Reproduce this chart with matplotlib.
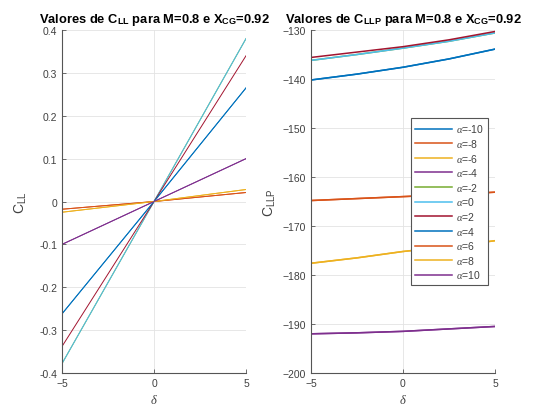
import numpy as np
import matplotlib.pyplot as plt

plt.rcParams['font.family'] = ['Liberation Sans', 'DejaVu Sans']
plt.rcParams['mathtext.fontset'] = 'custom'
plt.rcParams['mathtext.rm'] = 'Liberation Sans'
plt.rcParams['mathtext.bf'] = 'Liberation Sans:bold'
plt.rcParams['mathtext.it'] = 'Liberation Serif:italic'

# Data
alphas = [-10, -8, -6, -4, -2, 0, 2, 4, 6, 8, 10]
delta_ll = [-5, 0, 5]
delta_llp = [-5, -2.5, 0, 2.5, 5]

# C_LL vs delta (one list per alpha)
cll = {
    -10: [-0.262, 0, 0.265],
    -8: [-0.018, 0, 0.021],
    -6: [-0.025, 0, 0.028],
    -4: [-0.100, 0, 0.100],
    -2: [-0.378, 0, 0.380],
    0: [-0.378, 0, 0.380],
    2: [-0.338, 0, 0.340],
    4: [-0.262, 0, 0.265],
    6: [-0.018, 0, 0.021],
    8: [-0.025, 0, 0.028],
    10: [-0.100, 0, 0.100],
}

# C_LLP vs delta
cllp = {
    -10: [-140.2, -139.0, -137.6, -135.9, -133.9],
    -8: [-164.8, -164.4, -164.0, -163.6, -163.1],
    -6: [-177.6, -176.5, -175.2, -174.2, -173.0],
    -4: [-192.0, -191.8, -191.5, -191.0, -190.5],
    -2: [-136.2, -135.0, -133.7, -132.3, -130.6],
    0: [-136.2, -135.0, -133.7, -132.3, -130.6],
    2: [-135.6, -134.5, -133.4, -132.0, -130.3],
    4: [-140.2, -139.0, -137.6, -135.9, -133.9],
    6: [-164.8, -164.4, -164.0, -163.6, -163.1],
    8: [-177.6, -176.5, -175.2, -174.2, -173.0],
    10: [-192.0, -191.8, -191.5, -191.0, -190.5],
}

matlab_colors = ['#0072BD', '#D95319', '#EDB120', '#7E2F8E', '#77AC30', '#4DBEEE', '#A2142F']
axis_col = '#555555'
text_col = '#404040'

fig = plt.figure(figsize=(5.36, 4.14), dpi=100)
ax1 = fig.add_axes([0.1157, 0.0966, 0.3433, 0.8285])
ax2 = fig.add_axes([0.5802, 0.0966, 0.3433, 0.8285])

for i, a in enumerate(alphas):
    c = matlab_colors[i % 7]
    ax1.plot(delta_ll, cll[a], color=c, lw=0.7)
    ax2.plot(delta_llp, cllp[a], color=c, lw=1.1, label=r'$\mathit{\alpha}$=' + str(a))

def style_axes(ax):
    ax.grid(True, color='#e3e3e3', lw=0.6)
    ax.set_axisbelow(True)
    for s in ['top', 'right']:
        ax.spines[s].set_visible(False)
    for s in ['left', 'bottom']:
        ax.spines[s].set_color(axis_col)
        ax.spines[s].set_linewidth(0.8)
    ax.tick_params(direction='in', length=3, width=0.6, colors=axis_col,
                   labelsize=7.5, labelcolor=text_col)
    ax.set_xlim(-5, 5)
    ax.set_xticks([-5, 0, 5])
    ax.set_xlabel(r'$\mathit{\delta}$', fontsize=9, color=text_col, labelpad=4)

style_axes(ax1)
ax1.set_ylim(-0.4, 0.4)
ax1.set_yticks(np.arange(-4, 5) / 10)
ax1.set_yticklabels(['-0.4', '-0.3', '-0.2', '-0.1', '0', '0.1', '0.2', '0.3', '0.4'])
ax1.set_ylabel(r'C$_{\mathrm{LL}}$', fontsize=10, color=text_col, labelpad=7)
ax1.set_title(r'Valores de C$_{\mathbf{LL}}$ para M=0.8 e X$_{\mathbf{CG}}$=0.92',
              fontsize=9.3, fontweight='bold', color='black', pad=6)

style_axes(ax2)
ax2.set_ylim(-200, -130)
ax2.set_yticks(np.arange(-200, -129, 10))
ax2.set_ylabel(r'C$_{\mathrm{LLP}}$', fontsize=10, color=text_col, labelpad=3)
ax2.set_title(r'Valores de C$_{\mathbf{LLP}}$ para M=0.8 e X$_{\mathbf{CG}}$=0.92',
              fontsize=9.3, fontweight='bold', color='black', pad=6)

leg = ax2.legend(loc='upper right', bbox_to_anchor=(0.962, 0.743), borderaxespad=0,
                 fontsize=7.5, fancybox=False, edgecolor=axis_col, framealpha=1,
                 handlelength=3.5, handletextpad=0.4, labelspacing=0.25,
                 borderpad=0.4)
leg.get_frame().set_linewidth(0.8)
for t in leg.get_texts():
    t.set_color(text_col)

fig.savefig('out.png', dpi=100)
